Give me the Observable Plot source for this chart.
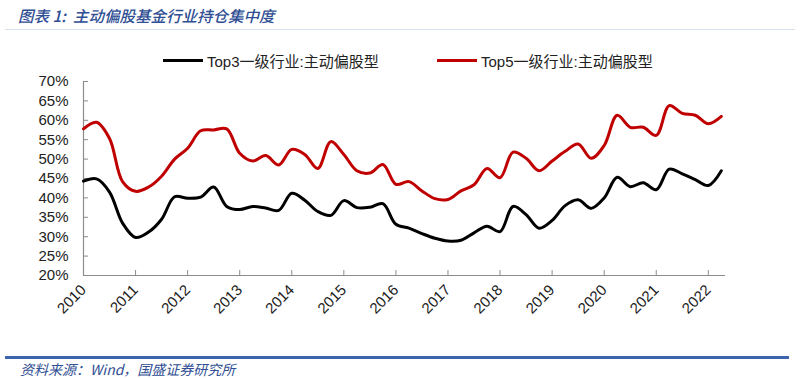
<!DOCTYPE html>
<html>
<head>
<meta charset="utf-8">
<script src="https://cdn.jsdelivr.net/npm/d3@7"></script>
<script src="https://cdn.jsdelivr.net/npm/@observablehq/plot@0.6"></script>
<style>
  html, body { margin: 0; padding: 0; background: #fff; }
  #wrap { position: relative; width: 800px; height: 378px; overflow: hidden; font-family: "Liberation Sans", "Noto Sans CJK SC", sans-serif; }
  #title { position: absolute; left: 18px; top: 5px; font-size: 15.5px; line-height: 20px; font-style: italic; font-weight: 500; color: #2F4E93; white-space: nowrap; font-family: "Noto Sans CJK SC", sans-serif; }
  #tline { position: absolute; left: 5px; right: 5px; top: 29px; height: 1px; background: #d6e0ef; }
  #legend { position: absolute; top: 49px; left: 0; width: 800px; height: 22px; font-size: 15px; color: #222; }
  .item { position: absolute; top: 0; display: flex; align-items: center; white-space: nowrap; height: 22px; }
  .sw { width: 40px; height: 3px; margin-right: 4px; }
  #chart { position: absolute; top: 70px; left: 0; }
  #fline { position: absolute; left: 5px; width: 784px; top: 356px; height: 3px; background: #3F64AE; }
  #source { position: absolute; left: 20px; top: 361px; font-size: 14px; line-height: 16px; font-style: italic; color: #2F4E93; white-space: nowrap; font-family: "Noto Sans CJK SC", sans-serif; }
</style>
</head>
<body>
<div id="wrap">
  <div id="title">图表 1:&nbsp; 主动偏股基金行业持仓集中度</div>
  <div id="tline"></div>
  <div id="legend"></div>
  <div id="chart"></div>
  <div id="fline"></div>
  <div id="source">资料来源：Wind，国盛证券研究所</div>
</div>
<script>
const seriesNames = ["Top3一级行业:主动偏股型", "Top5一级行业:主动偏股型"];
const seriesColors = ["#000000", "#C00000"];

const quarters = [
  "2010Q1","2010Q2","2010Q3","2010Q4",
  "2011Q1","2011Q2","2011Q3","2011Q4",
  "2012Q1","2012Q2","2012Q3","2012Q4",
  "2013Q1","2013Q2","2013Q3","2013Q4",
  "2014Q1","2014Q2","2014Q3","2014Q4",
  "2015Q1","2015Q2","2015Q3","2015Q4",
  "2016Q1","2016Q2","2016Q3","2016Q4",
  "2017Q1","2017Q2","2017Q3","2017Q4",
  "2018Q1","2018Q2","2018Q3","2018Q4",
  "2019Q1","2019Q2","2019Q3","2019Q4",
  "2020Q1","2020Q2","2020Q3","2020Q4",
  "2021Q1","2021Q2","2021Q3","2021Q4",
  "2022Q1","2022Q2"
];

const top3 = [
  44.3, 44.9, 41.5, 33.5,
  29.8, 31.2, 34.5, 40.3,
  39.9, 40.2, 42.8, 37.8,
  37.0, 37.8, 37.4, 36.8,
  41.2, 39.4, 36.5, 35.5,
  39.3, 37.5, 37.6, 38.5,
  33.2, 32.2, 30.8, 29.6,
  28.9, 29.1, 31.0, 32.7,
  31.3, 37.8, 35.7, 32.2,
  34.2, 38.0, 39.5, 37.3,
  40.0, 45.3, 42.9, 43.9,
  42.1, 47.4, 46.2, 44.7,
  43.2, 47.0
];

const top5 = [
  57.8, 59.5, 55.3, 44.2,
  41.7, 42.8, 45.6, 50.0,
  52.8, 57.3, 57.5, 57.8,
  51.5, 49.5, 50.9, 48.5,
  52.5, 51.2, 47.6, 54.5,
  51.2, 47.0, 46.4, 48.6,
  43.5, 44.2, 41.8, 39.8,
  39.6, 41.8, 43.4, 47.6,
  45.2, 51.8, 50.2, 47.0,
  49.5, 52.0, 53.9, 50.2,
  53.5, 61.3, 58.2, 58.2,
  56.1, 63.8, 61.8, 61.3,
  59.1, 61.0
];

const yearTicks = [2010, 2011, 2012, 2013, 2014, 2015, 2016, 2017, 2018, 2019, 2020, 2021, 2022];
const yTicks = [20, 25, 30, 35, 40, 45, 50, 55, 60, 65, 70];

function qpos(q) { return +q.slice(0, 4) + (+q.slice(5) - 1) / 4; }

const rows = [];
[top3, top5].forEach((vals, k) => {
  quarters.forEach((q, i) => rows.push({t: qpos(q), v: vals[i], s: seriesNames[k]}));
});

// legend
const legend = document.getElementById("legend");
const legendX = [163, 437];
seriesNames.forEach((name, k) => {
  const it = document.createElement("div");
  it.className = "item";
  it.style.left = legendX[k] + "px";
  it.innerHTML = `<span class="sw" style="background:${seriesColors[k]}"></span><span>${name}</span>`;
  legend.appendChild(it);
});

const axisColor = "#8c8c8c";
const chart = Plot.plot({
  width: 800,
  height: 270,
  marginLeft: 83,
  marginRight: 75,
  marginTop: 11,
  marginBottom: 65,
  style: {fontFamily: "'Liberation Sans', 'Noto Sans CJK SC', sans-serif", fontSize: "15px", color: "#222", background: "transparent"},
  x: {domain: [2010, 2022.33]},
  y: {domain: [20, 70]},
  color: {domain: seriesNames, range: seriesColors},
  marks: [
    Plot.axisY({ticks: yTicks, tickFormat: d => d + "%", tickSize: 0, tickPadding: 15, fontSize: 15, label: null}),
    Plot.axisY({ticks: yTicks, tickSize: -5, text: null, stroke: axisColor, label: null}),
    Plot.axisX({ticks: yearTicks, tickFormat: d => String(d), tickSize: 0, tickPadding: 12, tickRotate: -45, fontSize: 15, label: null}),
    Plot.axisX({ticks: yearTicks, tickSize: -5, text: null, stroke: axisColor, label: null}),
    Plot.ruleX([2010], {stroke: axisColor, strokeWidth: 1.2}),
    Plot.ruleY([20], {stroke: axisColor, strokeWidth: 1.2}),
    Plot.line(rows, {x: "t", y: "v", z: "s", stroke: "s", strokeWidth: 3, curve: "catmull-rom"})
  ]
});
document.getElementById("chart").appendChild(chart);
</script>
</body>
</html>
